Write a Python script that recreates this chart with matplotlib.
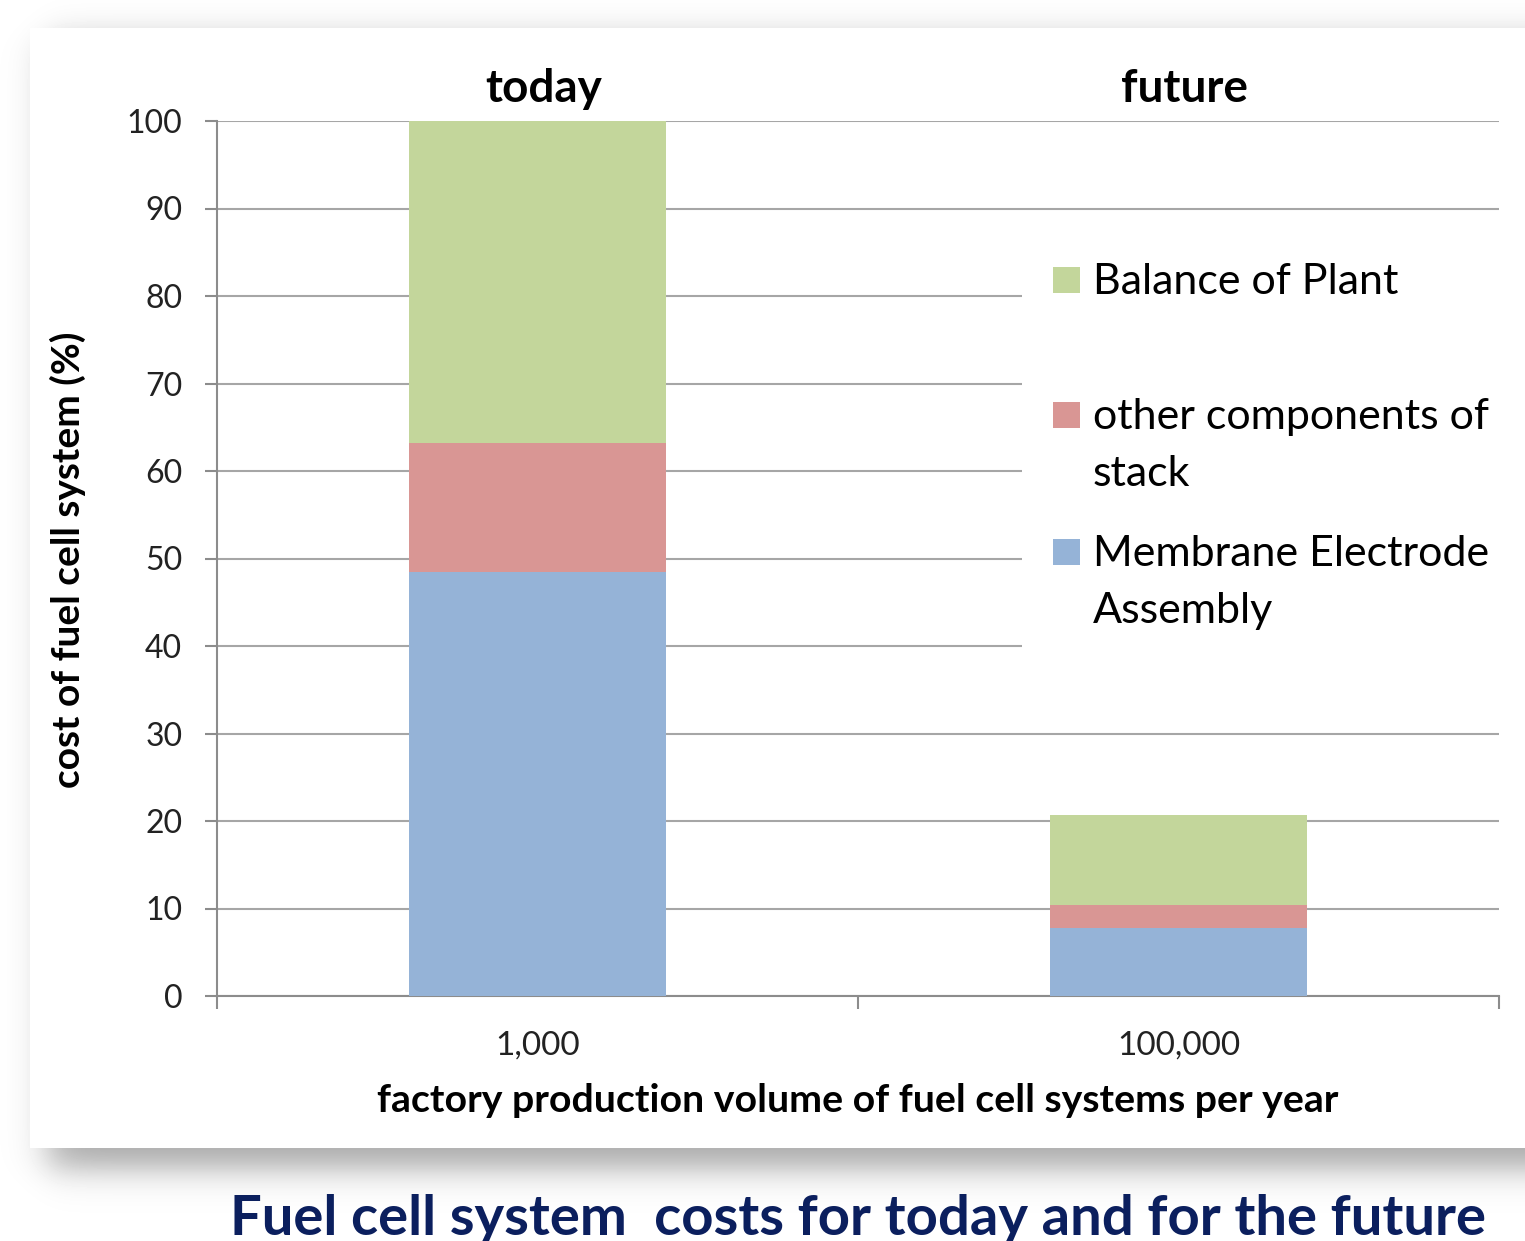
import numpy as np
import matplotlib.pyplot as plt
from matplotlib.patches import Rectangle

# data (% of today's fuel cell system cost)
groups = ["today", "future"]
volumes = ["1,000", "100,000"]
mea = [48.5, 7.8]
other_stack = [14.7, 2.6]
balance_of_plant = [36.8, 10.3]

series_names = ["Balance of Plant", "other components of\nstack", "Membrane Electrode\nAssembly"]
colors = {"mea": "#95b3d7", "other": "#d99694", "bop": "#c3d69b"}

W, H = 1525, 1241
fig = plt.figure(figsize=(W / 100, H / 100), dpi=100)

# background: white panel with soft drop shadow
bg = fig.add_axes([0, 0, 1, 1], zorder=-10)
X, Y = np.meshgrid(np.arange(W), np.arange(H))
sx = 0.5 * (1 + np.tanh((X - 48) / 22))
sy = 0.5 * (1 - np.tanh((Y - 1168) / 20))
st = 0.5 * (1 + np.tanh((Y - 40) / 20))
img = 1 - 0.34 * sx * sy * st
img[28:1148, 30:] = 1.0
bg.imshow(img, cmap="gray", vmin=0, vmax=1, aspect="auto", interpolation="bilinear")
bg.axis("off")

def px(x, y):
    return x / W, 1 - y / H

left, bottom = px(217, 996)
right, top = px(1499, 121)
ax = fig.add_axes([left, bottom, right - left, top - bottom])
ax.set_facecolor("none")

x = np.array([0.5, 1.5])
width = 0.4
ax.bar(x, mea, width, color=colors["mea"], zorder=3)
ax.bar(x, other_stack, width, bottom=mea, color=colors["other"], zorder=3)
ax.bar(x, balance_of_plant, width, bottom=np.add(mea, other_stack),
       color=colors["bop"], zorder=3)

ax.set_xlim(0, 2)
ax.set_ylim(0, 100)
ax.set_yticks(np.arange(0, 101, 10))
ax.yaxis.grid(True, color="#a6a6a6", linewidth=1.5, zorder=0)
ax.set_axisbelow(True)

for side in ["top", "right"]:
    ax.spines[side].set_visible(False)
for side in ["left", "bottom"]:
    ax.spines[side].set_color("#8c8c8c")
    ax.spines[side].set_linewidth(1.5)

ax.set_xticks([0, 1, 2])
ax.set_xticklabels([])
ax.set_xticks(x, minor=True)
ax.set_xticklabels(volumes, minor=True, fontsize=24, family="Lato", color="#222222")
ax.tick_params(axis="x", which="major", length=9, width=1.5, color="#8c8c8c", direction="out")
ax.tick_params(axis="x", which="minor", length=0, pad=25)
ax.tick_params(axis="y", length=9, width=1.5, color="#8c8c8c", pad=16)
for lab in ax.get_yticklabels():
    lab.set_fontsize(23)
    lab.set_family("Lato")
    lab.set_color("#222222")

for xi, g in zip(x, groups):
    ax.text(xi + 0.01, 103.6, g, ha="center", va="center", fontsize=33,
            fontweight="bold", family="Lato", clip_on=False)

ax.set_ylabel("cost of fuel cell system (%)", fontsize=28, fontweight="bold", family="Lato")
ax.yaxis.set_label_coords(-0.116, 0.498)
ax.yaxis.label.set_va("center")
ax.set_xlabel("factory production volume of fuel cell systems per year",
              fontsize=28.3, fontweight="bold", family="Lato")
ax.xaxis.set_label_coords(0.5, -0.119)
ax.xaxis.label.set_va("center")

# legend drawn by hand: white box over the gridlines, square keys
lx0, ly0 = px(1022, 690)
lx1, ly1 = px(1499, 235)
fig.add_artist(Rectangle((lx0, ly0), lx1 - lx0, ly1 - ly0, transform=fig.transFigure,
                         facecolor="white", edgecolor="none", zorder=5))
key_cols = [colors["bop"], colors["other"], colors["mea"]]
first_line_y = [280, 415, 552]
for name, c, yy in zip(series_names, key_cols, first_line_y):
    kx, ky = px(1053, yy + 13)
    fig.add_artist(Rectangle((kx, ky), 27 / W, 26 / H, transform=fig.transFigure,
                             facecolor=c, edgecolor="none", zorder=6))
    tx, ty = px(1093, yy - 17)
    fig.text(tx, ty, name, ha="left", va="top", fontsize=31, family="Lato",
             linespacing=1.62, zorder=7)

fig.text(230 / W, 1 - 1235 / H, "Fuel cell system  costs for today and for the future",
         ha="left", va="baseline", fontsize=40.5, fontweight="bold", color="#0b1f5e",
         family="Lato")

fig.savefig("out.png", dpi=100)
